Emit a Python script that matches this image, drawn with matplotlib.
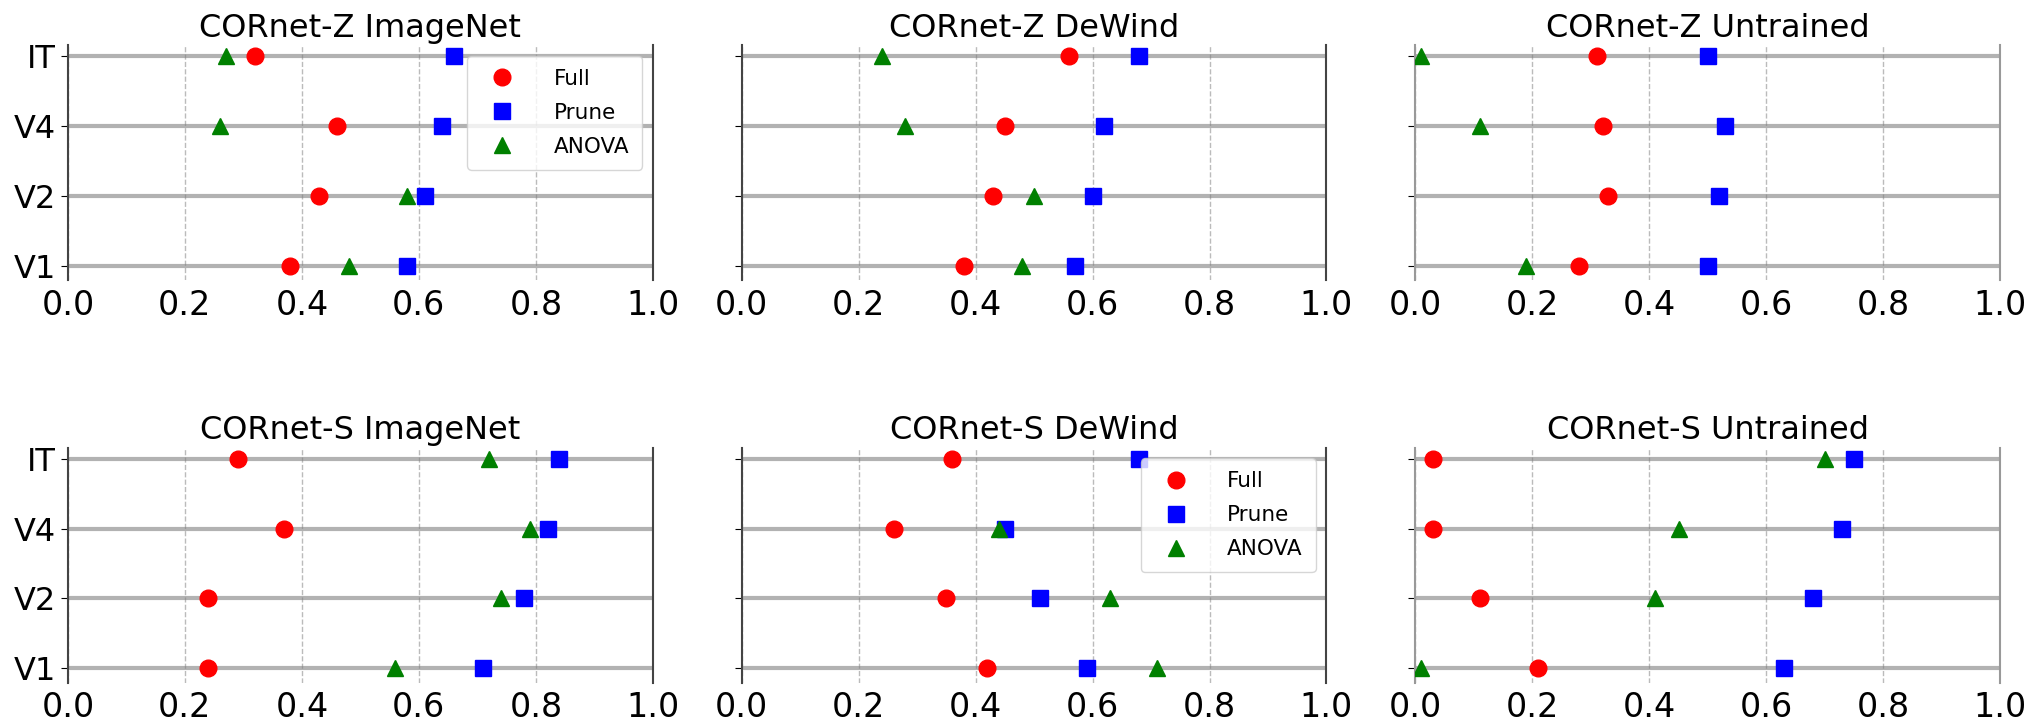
"""Layer-wise scores for CORnet-Z / CORnet-S, three readouts per layer."""

import matplotlib

matplotlib.use("Agg")
import matplotlib.pyplot as plt
import numpy as np

nan = np.nan

layers = ["V1", "V2", "V4", "IT"]
methods = ["Full", "Prune", "ANOVA"]

titles = [
    "CORnet-Z ImageNet", "CORnet-Z DeWind", "CORnet-Z Untrained",
    "CORnet-S ImageNet", "CORnet-S DeWind", "CORnet-S Untrained",
]

# values ordered V1, V2, V4, IT
z_imagenet_full = [0.38, 0.43, 0.46, 0.32]
z_imagenet_prune = [0.58, 0.61, 0.64, 0.66]
z_imagenet_anova = [0.48, 0.58, 0.26, 0.27]

z_dewind_full = [0.38, 0.43, 0.45, 0.56]
z_dewind_prune = [0.57, 0.60, 0.62, 0.68]
z_dewind_anova = [0.48, 0.50, 0.28, 0.24]

z_untrained_full = [0.28, 0.33, 0.32, 0.31]
z_untrained_prune = [0.50, 0.52, 0.53, 0.50]
z_untrained_anova = [0.19, nan, 0.11, 0.01]

s_imagenet_full = [0.24, 0.24, 0.37, 0.29]
s_imagenet_prune = [0.71, 0.78, 0.82, 0.84]
s_imagenet_anova = [0.56, 0.74, 0.79, 0.72]

s_dewind_full = [0.42, 0.35, 0.26, 0.36]
s_dewind_prune = [0.59, 0.51, 0.45, 0.68]
s_dewind_anova = [0.71, 0.63, 0.44, nan]

s_untrained_full = [0.21, 0.11, 0.03, 0.03]
s_untrained_prune = [0.63, 0.68, 0.73, 0.75]
s_untrained_anova = [0.01, 0.41, 0.45, 0.70]

panels = [
    (z_imagenet_full, z_imagenet_prune, z_imagenet_anova),
    (z_dewind_full, z_dewind_prune, z_dewind_anova),
    (z_untrained_full, z_untrained_prune, z_untrained_anova),
    (s_imagenet_full, s_imagenet_prune, s_imagenet_anova),
    (s_dewind_full, s_dewind_prune, s_dewind_anova),
    (s_untrained_full, s_untrained_prune, s_untrained_anova),
]
legend_panels = [0, 4]

styles = [("o", "red"), ("s", "blue"), ("^", "green")]

fig, axes = plt.subplots(2, 3, figsize=(20.41, 7.21), dpi=100, sharey=True)
fig.subplots_adjust(left=0.0333, right=0.98, top=0.9376, bottom=0.0527,
                    wspace=0.152, hspace=0.71)

y = np.arange(len(layers))

for i, ax in enumerate(axes.flat):
    for yy in y:
        ax.axhline(yy, color="gray", alpha=0.6, lw=3, zorder=1)
    for vals, name, (mk, col) in zip(panels[i], methods, styles):
        ax.plot(vals, y, linestyle="none", marker=mk, color=col,
                markersize=12, label=name, zorder=3)

    ax.set_xlim(0, 1)
    ax.set_ylim(-0.21, 3.16)
    ax.set_xticks(np.linspace(0, 1, 6))
    ax.set_yticks(y)
    ax.set_yticklabels(layers)
    ax.tick_params(axis="x", length=0, labelsize=24, pad=6)
    ax.tick_params(axis="y", labelsize=23, length=5)
    ax.grid(axis="x", linestyle="--", color="#bbbbbb", lw=1)
    ax.set_axisbelow(True)

    ax.spines["top"].set_visible(False)
    ax.spines["bottom"].set_visible(False)
    spine_col = "#999999" if i % 3 == 2 else "#444444"
    for side in ("left", "right"):
        ax.spines[side].set_color(spine_col)
        ax.spines[side].set_linewidth(1.5)

    ax.set_title(titles[i], fontsize=23)

    if i in legend_panels:
        ax.legend(loc="upper right", fontsize=15.5, numpoints=1,
                  borderpad=0.6, labelspacing=0.65, handletextpad=1.4)

fig.savefig("out.png", dpi=100)
